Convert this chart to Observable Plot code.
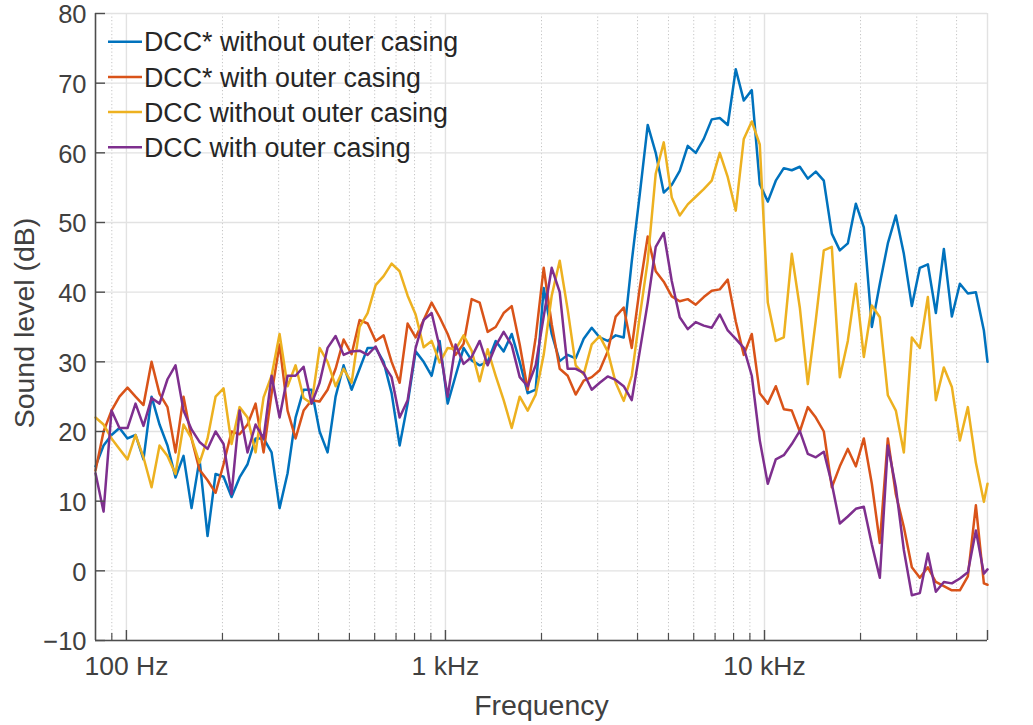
<!DOCTYPE html>
<html>
<head>
<meta charset="utf-8">
<script src="https://cdn.jsdelivr.net/npm/d3@7"></script>
<script src="https://cdn.jsdelivr.net/npm/@observablehq/plot@0.6"></script>
<style>
  html, body { margin: 0; padding: 0; background: #ffffff; }
  #wrap { position: relative; width: 1033px; height: 725px; font-family: "Liberation Sans", Arial, Helvetica, sans-serif; }
  #legend { position: absolute; left: 0; top: 0; pointer-events: none; }
</style>
</head>
<body>
<div id="wrap"></div>
<script>
// ---------- data ----------
const seriesNames = [
  "DCC* without outer casing",
  "DCC* with outer casing",
  "DCC without outer casing",
  "DCC with outer casing"
];
const seriesColors = ["#0072BD", "#D95319", "#EDB120", "#7E2F8E"];

// frequency (Hz), 1/12-octave grid
const freq = [
  80, 84.8, 89.8, 95.1, 100.8, 106.8, 113.1, 119.9, 127, 134.5,
  142.5, 151, 160, 169.5, 179.6, 190.3, 201.6, 213.6, 226.3, 239.7,
  254, 269.1, 285.1, 302, 320, 339, 359.2, 380.6, 403.2, 427.1,
  452.5, 479.5, 508, 538.2, 570.2, 604.1, 640, 678, 718.4, 761.1,
  806.3, 854.3, 905.1, 958.9, 1016, 1076, 1140, 1208, 1280, 1356,
  1437, 1522, 1613, 1709, 1810, 1918, 2032, 2153, 2281, 2416,
  2560, 2712, 2874, 3044, 3225, 3417, 3620, 3836, 4064, 4305,
  4561, 4833, 5120, 5424, 5747, 6089, 6451, 6834, 7241, 7671,
  8127, 8611, 9123, 9665, 10240, 10849, 11494, 12177, 12902, 13669,
  14482, 15343, 16255, 17222, 18246, 19331, 20480, 21698, 22988, 24355,
  25803, 27337, 28963, 30685, 32510, 34443, 36491, 38661, 40960, 43395,
  45976, 48709, 50000
];

// Sound level (dB)
const dccStarWithout = [
  15, 18, 19.5, 20.5, 19, 19.5, 16, 25, 21, 18,
  13.4, 16.5, 9, 16, 5, 13.9, 13.5, 10.6, 13.4, 15.3,
  19, 19, 17, 9, 14, 22, 26, 26, 20, 17,
  25, 29.5, 26, 29, 32, 32, 30, 25.5, 18, 24,
  31.5, 30, 28, 33, 24, 28, 32, 30.2, 29.5, 30,
  33, 31.5, 34, 30, 25.5, 26, 40.6, 34, 30.1, 31,
  30.5, 33.3, 34.9, 33.5, 33, 33.8, 33.5, 44.4, 54, 64,
  60, 54.3, 55.4, 57.4, 61, 60, 62, 64.8, 65, 64,
  72, 67.5, 69, 55.5, 53, 56, 57.8, 57.5, 58, 56.3,
  57.3, 56, 48.4, 46, 47, 52.7, 49.3, 35, 41.2, 47,
  51, 45.5, 38, 43.5, 44, 37, 46.2, 36.5, 41.2, 39.8,
  40, 34.5, 30
];
const dccStarWith = [
  14.4, 20, 23, 25, 26.3, 25, 23.8, 30, 25.4, 23.5,
  17, 25, 19, 14.5, 13, 11.2, 15.3, 20, 19.6, 21,
  24, 17, 25.4, 32.5, 23, 19, 23, 24.5, 24.3, 26,
  29, 33.2, 31.1, 36, 35.5, 33, 33.8, 30, 27, 35.5,
  33.5, 36, 38.5, 36.4, 34, 31, 32.6, 39, 38.5, 34.3,
  35, 37, 38, 32.5, 26, 33.5, 43.5, 35.4, 29, 28,
  25.3, 27.3, 27.8, 28.8, 31.5, 36.5, 37.8, 32, 40.6, 48,
  43, 41.5, 39.4, 38.7, 39, 38.2, 39.3, 40.2, 40.4, 41.8,
  35.8, 31, 34, 25.5, 24, 26.5, 23.2, 23, 20, 23.5,
  22, 20, 12, 15, 17.5, 15, 19, 12.5, 4, 19,
  11, 6.3, 0.5, -1, 0.5, -1.6, -2.2, -2.8, -2.8, -0.8,
  9.4, -1.8, -2
];
const dccWithout = [
  22, 21, 19, 17.5, 16, 19.5, 16.3, 12, 18, 16.5,
  13.9, 21, 19, 15.5, 19, 25, 26.2, 18.2, 23.5, 22,
  17, 24.9, 28, 34, 26.5, 29.5, 24.8, 24, 32, 30,
  26.5, 29, 27, 35, 37, 41, 42.3, 44.1, 43, 39.5,
  36.8, 32.1, 33, 29.9, 32, 31.8, 33.8, 31.6, 27.2, 31.8,
  28, 24.5, 20.5, 25, 23, 25.3, 31, 39.5, 44.5, 37.5,
  29.5, 28.2, 32.5, 33.7, 31.5, 27, 24.4, 28, 36.5, 44.5,
  57, 61.5, 53.6, 51, 52.6, 53.7, 54.8, 56, 60, 56.5,
  51.7, 62, 64.5, 61.2, 38.5, 33, 33.5, 45.5, 37.8, 26.8,
  36, 46, 46.5, 27.8, 33, 41.2, 30.7, 38.1, 36.4, 25.2,
  23, 17, 33.5, 32, 39.3, 24.5, 29.2, 26.4, 18.7, 23.5,
  15.5, 9.9, 12.5
];
const dccWith = [
  14, 8.5, 23, 20.5, 20.5, 24, 20.8, 24.8, 24, 27.5,
  29.5, 23, 20.3, 18.5, 17.5, 20, 18.2, 11, 23, 17,
  21, 19, 28, 22, 28, 28, 29.3, 24, 27, 32,
  33.7, 31, 31.5, 31.6, 31, 32.2, 29.6, 27.8, 22, 24.5,
  32, 36, 37, 32.1, 25, 32.5, 29.7, 30.7, 33, 29.5,
  32.3, 34.3, 32.4, 27.8, 26.5, 29.5, 36.5, 43.5, 40, 29,
  29, 28.4, 26, 27, 27.9, 27.4, 26.5, 24.5, 31.5, 38.5,
  46.5, 48.5, 41.6, 36.4, 34.7, 35.7, 35.2, 34.9, 36.8, 34.5,
  33.3, 32, 28, 18.7, 12.5, 16, 16.6, 18.2, 20.1, 16.8,
  16.3, 17.1, 12.5, 6.8, 7.8, 8.9, 9.2, 3.8, -1, 18,
  12, 3, -3.5, -3.2, 2.5, -3, -1.6, -1.8, -1.1, -0.2,
  5.8, -0.4, 0.2
];

// axis ticks
const xTicks = [100, 1000, 10000, 50000];
const xTickLabels = ["100 Hz", "1 kHz", "10 kHz", "50 kHz"];
const xMinorTicks = [90, 200, 300, 400, 500, 600, 700, 800, 900,
  2000, 3000, 4000, 5000, 6000, 7000, 8000, 9000, 20000, 30000, 40000];
const yTicks = [-10, 0, 10, 20, 30, 40, 50, 60, 70, 80];

// ---------- chart ----------
const seriesValues = [dccStarWithout, dccStarWith, dccWithout, dccWith];
const rows = [];
seriesValues.forEach((vals, s) => vals.forEach((v, i) => rows.push({f: freq[i], db: v, s: seriesNames[s]})));

const W = 1033, H = 725, mL = 95, mR = 46, mT = 13, mB = 85;
const frameW = W - mL - mR, frameH = H - mT - mB;
const axisColor = "#4d4d4d";
const textColor = "#404040";
const fontFamily = '"Liberation Sans", Arial, Helvetica, sans-serif';
const fmtY = d => (d < 0 ? "\u2212" + Math.abs(d) : String(d));

const chart = Plot.plot({
  width: W, height: H,
  marginLeft: mL, marginRight: mR, marginTop: mT, marginBottom: mB,
  style: {fontFamily, fontSize: "26px", background: "#ffffff", color: textColor, overflow: "visible"},
  x: {type: "log", domain: [80, 50000]},
  y: {domain: [-10, 80]},
  color: {domain: seriesNames, range: seriesColors},
  marks: [
    Plot.ruleX(xMinorTicks, {stroke: "#c4c4c4", strokeWidth: 1, strokeDasharray: "1.2,2.3"}),
    Plot.ruleX(xTicks, {stroke: "#e2e2e2", strokeWidth: 1.4}),
    Plot.ruleY(yTicks, {stroke: "#e2e2e2", strokeWidth: 1.4}),
    Plot.line(rows, {x: "f", y: "db", z: "s", stroke: "s", strokeWidth: 2.5, strokeLinejoin: "round"}),
    Plot.ruleX([80], {stroke: axisColor, strokeWidth: 1.6}),
    Plot.ruleY([-10], {stroke: axisColor, strokeWidth: 1.6}),
    Plot.ruleX(xTicks, {stroke: axisColor, strokeWidth: 1.4, insetTop: frameH - 10}),
    Plot.ruleX(xMinorTicks, {stroke: axisColor, strokeWidth: 1.2, insetTop: frameH - 7}),
    Plot.ruleY(yTicks, {stroke: axisColor, strokeWidth: 1.4, insetRight: frameW - 10}),
    Plot.axisX({ticks: xTicks, tickFormat: d => xTickLabels[xTicks.indexOf(d)], tickSize: 0, tickPadding: 16,
      fontSize: 26.5, fill: textColor, label: null}),
    Plot.axisY({ticks: yTicks, tickFormat: fmtY, tickSize: 0, tickPadding: 9, dy: 1.5,
      fontSize: 25.5, fill: textColor, label: null}),
    Plot.text(["Frequency"], {frameAnchor: "bottom", textAnchor: "middle", lineAnchor: "middle",
      dy: 65, fontSize: 28.5, fill: textColor}),
    Plot.text(["Sound level (dB)"], {frameAnchor: "left", textAnchor: "middle", lineAnchor: "middle",
      dx: -71, dy: -4, rotate: -90, fontSize: 28.5, fill: textColor})
  ]
});

const wrap = document.getElementById("wrap");
wrap.appendChild(chart);

// legend (inside plot area, top-left, no box)
const leg = d3.select(wrap).append("svg")
  .attr("id", "legend").attr("width", W).attr("height", H);
seriesNames.forEach((name, i) => {
  const cy = 41.7 + i * 35.2;
  leg.append("line")
    .attr("x1", 108).attr("x2", 142).attr("y1", cy).attr("y2", cy)
    .attr("stroke", seriesColors[i]).attr("stroke-width", 2.5);
  leg.append("text")
    .attr("x", 144).attr("y", cy + 9.6)
    .attr("font-family", fontFamily).attr("font-size", 26.8)
    .attr("fill", "#262626")
    .text(name);
});
</script>
</body>
</html>
